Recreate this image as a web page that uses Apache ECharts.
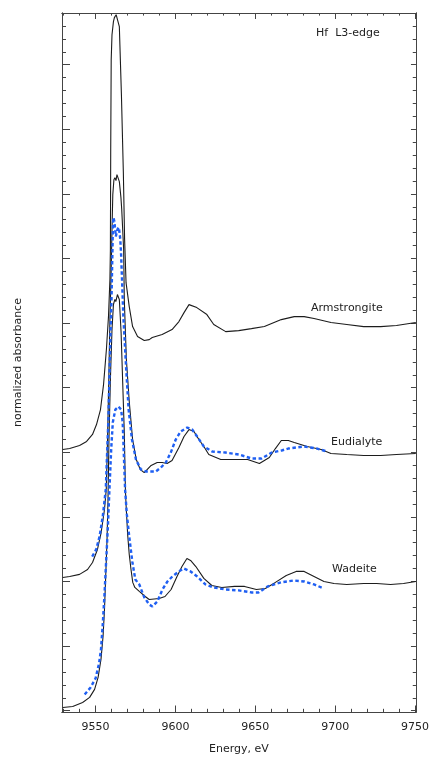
<!DOCTYPE html>
<html><head><meta charset="utf-8">
<script src="https://cdn.jsdelivr.net/npm/echarts@6/dist/echarts.min.js"></script>
<style>html,body{margin:0;padding:0;background:#fff}#c{width:432px;height:760px}</style>
</head><body><div id="c"></div>
<script>
// ---- Data (energy in eV, normalized absorbance with vertical offsets) ----
const armE = [9529.5,9533.8,9540.0,9544.4,9548.1,9550.6,9553.1,9555.0,9556.8,9558.1,9559.0,9559.3,9559.5,9559.8,9560.3,9561.2,9561.8,9562.9,9563.7,9564.9,9566.2,9567.4,9568.2,9569.1,9571.1,9573.2,9576.3,9580.5,9583.6,9585.5,9591.7,9597.9,9602.2,9605.4,9608.5,9613.4,9619.7,9624.0,9631.5,9639.6,9647.6,9655.7,9666.3,9674.4,9680.6,9686.8,9697.4,9707.3,9717.9,9728.5,9738.4,9750.5];
const armA = [2.022,2.029,2.053,2.084,2.138,2.215,2.331,2.524,2.795,3.050,3.337,3.569,4.342,5.038,5.232,5.333,5.364,5.387,5.372,5.294,4.768,4.172,3.646,3.313,3.128,2.973,2.896,2.865,2.872,2.888,2.911,2.950,3.012,3.081,3.143,3.120,3.066,2.989,2.934,2.942,2.957,2.973,3.027,3.050,3.050,3.035,3.004,2.989,2.973,2.973,2.981,3.004];

const eudE = [9529.5,9533.8,9540.0,9545.0,9548.1,9551.2,9553.5,9555.6,9556.7,9557.5,9558.3,9559.0,9559.8,9560.3,9560.8,9561.5,9562.1,9562.8,9563.4,9564.0,9564.9,9565.9,9566.4,9567.6,9568.0,9569.3,9571.1,9573.2,9575.5,9578.0,9580.5,9584.8,9588.6,9591.7,9594.8,9597.9,9602.2,9605.4,9608.5,9611.6,9614.7,9617.8,9620.9,9628.4,9637.7,9645.2,9652.6,9658.8,9662.6,9666.3,9670.7,9674.4,9682.5,9691.2,9697.4,9707.3,9717.9,9728.5,9738.4,9750.5];
const eudA = [1.031,1.039,1.055,1.093,1.147,1.248,1.379,1.557,1.712,2.099,2.563,3.027,3.414,3.723,3.994,4.110,4.126,4.103,4.149,4.142,4.095,3.971,3.878,3.569,3.182,2.718,2.393,2.099,1.944,1.867,1.843,1.898,1.921,1.921,1.913,1.937,2.037,2.122,2.176,2.161,2.099,2.045,1.983,1.944,1.944,1.944,1.913,1.960,2.029,2.091,2.091,2.076,2.045,2.022,1.991,1.983,1.975,1.975,1.983,1.991];

const wadE = [9529.5,9535.7,9541.9,9546.3,9549.4,9551.6,9553.4,9554.7,9555.6,9556.4,9557.2,9557.8,9558.4,9559.3,9560.3,9561.2,9562.1,9562.7,9563.7,9564.9,9566.0,9567.0,9568.0,9568.7,9569.1,9570.1,9571.1,9572.2,9573.3,9574.6,9577.4,9581.1,9583.6,9589.8,9593.5,9597.3,9601.0,9604.1,9607.2,9609.5,9612.8,9617.8,9622.8,9629.0,9637.1,9643.3,9650.7,9656.3,9662.6,9669.4,9675.6,9680.6,9686.8,9693.0,9699.3,9707.3,9717.9,9726.0,9734.7,9742.8,9750.5];
const wadA = [0.025,0.033,0.064,0.103,0.165,0.258,0.397,0.575,0.784,1.054,1.325,1.635,2.099,2.563,2.950,3.144,3.183,3.167,3.221,3.183,2.927,2.540,2.153,1.712,1.596,1.364,1.209,1.093,0.993,0.954,0.923,0.884,0.861,0.869,0.884,0.938,1.039,1.116,1.178,1.163,1.116,1.024,0.969,0.954,0.962,0.962,0.938,0.946,0.993,1.047,1.078,1.078,1.039,1.000,0.985,0.977,0.985,0.985,0.977,0.985,1.000];

const eudCalcE = [9547.9,9550.4,9552.5,9554.5,9556.4,9558.1,9559.1,9560.0,9560.6,9560.9,9561.2,9561.8,9562.7,9563.7,9564.6,9565.5,9566.0,9566.8,9567.4,9569.1,9570.7,9572.8,9575.3,9578.4,9581.7,9587.7,9590.9,9594.0,9597.1,9600.2,9603.3,9607.4,9610.5,9613.6,9617.8,9623.0,9631.3,9639.6,9647.8,9654.0,9660.3,9666.5,9670.6,9680.6,9688.7,9694.9];
const eudCalcA = [1.193,1.248,1.348,1.503,1.712,2.277,2.796,3.183,3.570,3.764,3.818,3.787,3.671,3.725,3.741,3.648,3.531,3.260,3.051,2.664,2.331,2.099,1.944,1.867,1.851,1.851,1.882,1.921,1.998,2.099,2.161,2.192,2.176,2.122,2.045,2.006,1.998,1.983,1.952,1.952,1.998,2.014,2.029,2.045,2.029,2.006];

const wadCalcE = [9543.2,9546.9,9550.0,9552.2,9553.4,9554.5,9555.6,9556.7,9557.8,9558.7,9559.8,9560.8,9562.4,9564.3,9566.0,9567.0,9567.6,9568.5,9569.6,9571.1,9573.0,9574.9,9577.4,9580.5,9583.6,9585.6,9588.7,9591.9,9595.0,9598.1,9602.2,9605.3,9609.5,9613.6,9618.8,9624.0,9631.3,9639.6,9647.8,9652.0,9657.8,9666.1,9674.4,9680.6,9686.8,9693.0];
const wadCalcA = [0.126,0.180,0.250,0.366,0.474,0.668,0.900,1.171,1.441,1.712,2.022,2.231,2.331,2.354,2.331,2.231,2.022,1.712,1.519,1.348,1.155,1.016,0.977,0.877,0.822,0.807,0.846,0.938,1.000,1.039,1.078,1.101,1.078,1.039,0.977,0.954,0.938,0.931,0.915,0.915,0.962,0.993,1.008,1.000,0.977,0.946];

const xMajor = [9550, 9600, 9650, 9700, 9750];
const xMinor = [9530,9540,9560,9570,9580,9590,9610,9620,9630,9640,9660,9670,9680,9690,9710,9720,9730,9740];
const yMajor = [0, 0.5, 1, 1.5, 2, 2.5, 3, 3.5, 4, 4.5, 5];
const yMinor = [];
for (let i = 1; i <= 54; i++) { if (i % 5 !== 0) yMinor.push(i / 10); }

const X_MIN = 9529, X_MAX = 9750.6, Y_MIN = -0.01, Y_MAX = 5.4;
const AX = '#444';
const FONT = 'DejaVu Sans';

function zip(a, b) { return a.map((v, i) => [v, b[i]]); }

function xa(pos, ticks, len, opts) {
  return Object.assign({
    type: 'value', position: pos, min: X_MIN, max: X_MAX,
    axisLine: { show: true, onZero: false, lineStyle: { color: AX, width: 1 } },
    axisTick: { show: true, inside: true, length: len, customValues: ticks, lineStyle: { color: AX, width: 1 } },
    axisLabel: { show: false },
    splitLine: { show: false }
  }, opts || {});
}
function ya(pos, ticks, len) {
  return {
    type: 'value', position: pos, min: Y_MIN, max: Y_MAX,
    axisLine: { show: true, onZero: false, lineStyle: { color: AX, width: 1 } },
    axisTick: { show: true, inside: true, length: len, customValues: ticks, lineStyle: { color: AX, width: 1 } },
    axisLabel: { show: false },
    splitLine: { show: false }
  };
}

const chart = echarts.init(document.getElementById('c'), null, { renderer: 'canvas' });
const blackLine = { color: '#1c1c1c', width: 1.1 };
const blueLine = { color: '#1f5ff2', width: 2.4, type: [3.5, 2.5] };

chart.setOption({
  animation: false,
  backgroundColor: '#fff',
  grid: { left: 62, right: 12.5, top: 13, bottom: 47.5, containLabel: false },
  xAxis: [
    xa('bottom', xMajor, 6.5, {
      name: 'Energy, eV', nameLocation: 'middle', nameGap: 32,
      nameTextStyle: { fontFamily: FONT, fontSize: 11, color: '#222' },
      axisLabel: { show: true, customValues: xMajor, margin: 10, fontFamily: FONT, fontSize: 11, color: '#222',
        formatter: v => String(Math.round(v)) }
    }),
    xa('bottom', xMinor, 3.2),
    xa('top', xMajor, 6),
    xa('top', xMinor, 2.6)
  ],
  yAxis: [
    Object.assign(ya('left', yMajor, 8), {
      name: 'normalized absorbance', nameLocation: 'middle', nameGap: 38, nameRotate: 90,
      nameTextStyle: { fontFamily: FONT, fontSize: 11, color: '#222' }
    }),
    ya('left', yMinor, 4),
    ya('right', yMajor, 5),
    ya('right', yMinor, 3.2)
  ],
  series: [
    { name: 'Armstrongite', type: 'line', data: zip(armE, armA), showSymbol: false, symbol: 'none', lineStyle: blackLine, z: 2 },
    { name: 'Eudialyte', type: 'line', data: zip(eudE, eudA), showSymbol: false, symbol: 'none', lineStyle: blackLine, z: 2 },
    { name: 'Wadeite', type: 'line', data: zip(wadE, wadA), showSymbol: false, symbol: 'none', lineStyle: blackLine, z: 2 },
    { name: 'Eudialyte calc', type: 'line', data: zip(eudCalcE, eudCalcA), showSymbol: false, symbol: 'none', lineStyle: blueLine, z: 3 },
    { name: 'Wadeite calc', type: 'line', data: zip(wadCalcE, wadCalcA), showSymbol: false, symbol: 'none', lineStyle: blueLine, z: 3 }
  ],
  graphic: [
    { type: 'text', left: 316, top: 28, style: { text: 'Hf  L3-edge', font: '11px "DejaVu Sans"', fill: '#222' } },
    { type: 'text', left: 311, top: 303, style: { text: 'Armstrongite', font: '11px "DejaVu Sans"', fill: '#222' } },
    { type: 'text', left: 331, top: 437, style: { text: 'Eudialyte', font: '11px "DejaVu Sans"', fill: '#222' } },
    { type: 'text', left: 332, top: 564, style: { text: 'Wadeite', font: '11px "DejaVu Sans"', fill: '#222' } }
  ]
});
</script>
</body></html>
